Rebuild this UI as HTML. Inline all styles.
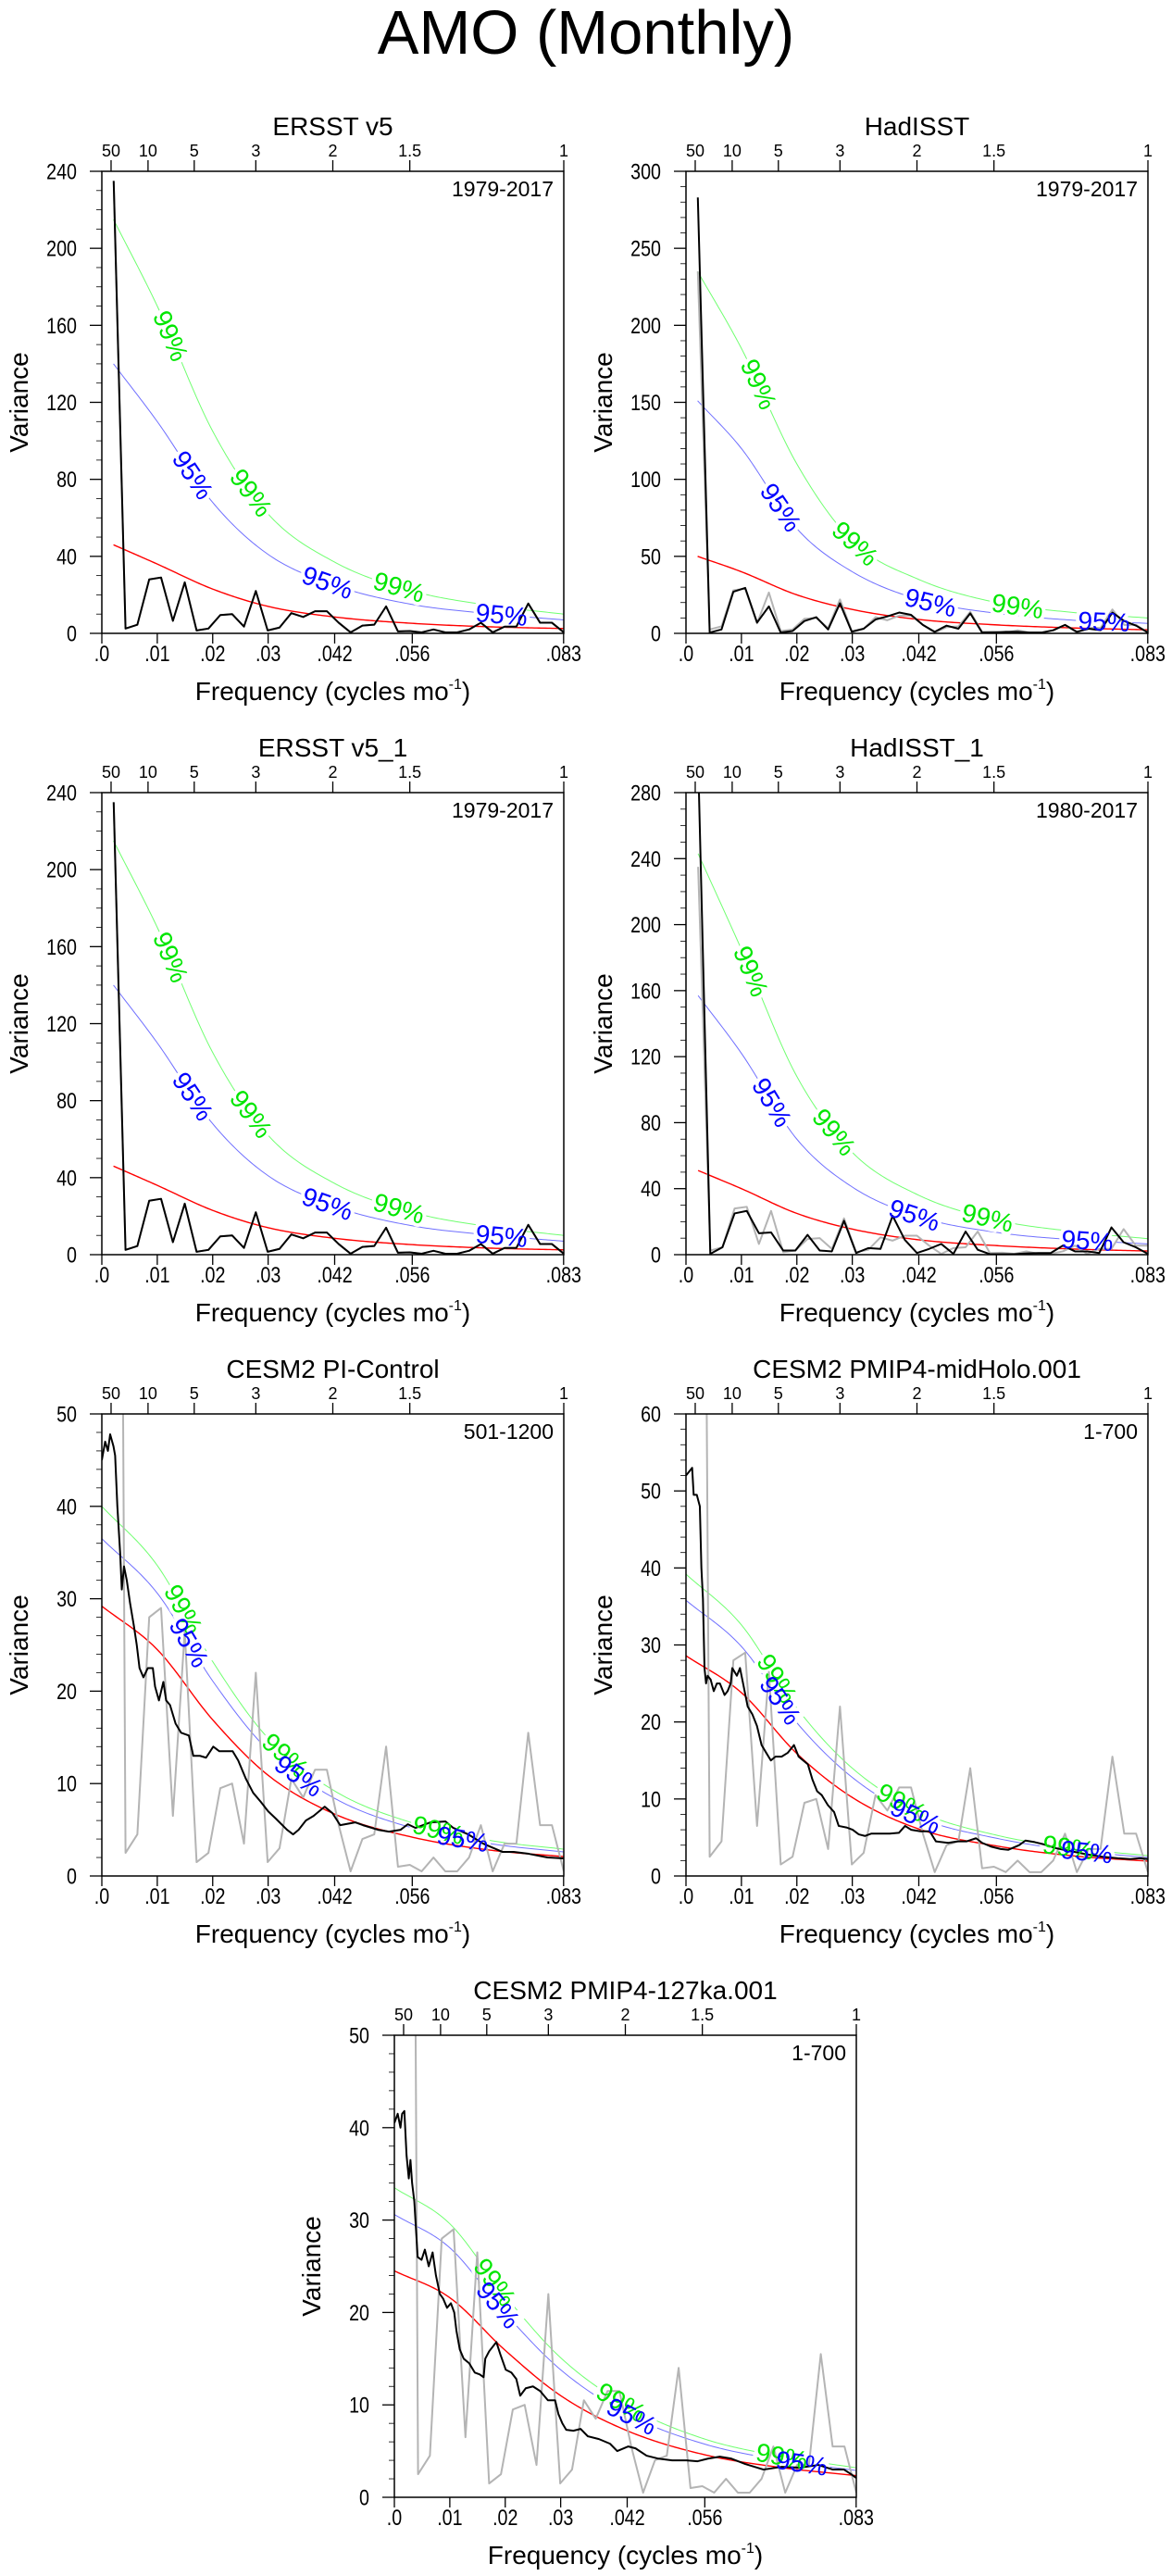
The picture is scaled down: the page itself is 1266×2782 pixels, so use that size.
<!DOCTYPE html>
<html><head><meta charset="utf-8"><title>AMO (Monthly)</title>
<style>
html,body{margin:0;padding:0;background:#fff;}
svg{display:block;font-family:"Liberation Sans",Arial,sans-serif;}
</style></head>
<body>
<svg id="fig" width="1266" height="2782" viewBox="0 0 1266 2782" xmlns="http://www.w3.org/2000/svg">
<rect x="0" y="0" width="1266" height="2782" fill="#fff"/>
<text x="633" y="58" font-size="67" text-anchor="middle" fill="#000">AMO (Monthly)</text>
</svg>
<script>
// ---------- data ----------
const ersstVals = [235,2.5,4.5,28,29,6.5,26.5,1.5,2.5,9.5,10,3.5,22,1.5,3,10.5,8.5,11.5,11.5,5.5,0.5,4,4.5,14,1,1.2,0.5,2,0.5,0.5,2,5.5,0.5,3.5,3.5,15.5,5.5,5.5,0.5];
const hadVals = [283,0.5,2.5,27,29.5,7,17.5,0.5,1.5,8,10.5,2.5,19.5,1,3,9,11,13.5,12,5.5,1,5,3,13,0.5,0.5,1,1,0.5,0.5,2,5.5,1,3,2,13.5,8,5,0.5];
const had1Vals = [300,0.5,4.5,25,26.5,13,13.5,2.5,2.5,12,2.5,2,20.5,1,4,3.5,23.5,9,1,3.5,6.5,0.5,14,3,0.3,0.3,0.3,0.8,1,1,5.5,2,2,1,16.5,7.5,4.5,0.5];

const knotsObs = [0.0021,0.01,0.02,0.03,0.042,0.056,0.07,0.0833];
const knotsMod = [0,0.01,0.02,0.03,0.042,0.056,0.07,0.0833];

const ersstRed = [46,36,23,14,8.5,5.2,3.4,2.5];
const ersstB95 = [140,110,68,41,25,15,10.2,7];
const ersstG99 = [215,170,105,62,37,22,14.5,10];
const hadRed = [50,40,25,15.5,9,5.5,3.5,2.3];
const hadB95 = [151,120,68,40,22,13,8.5,6.5];
const hadG99 = [235,185,110,60,35,20,13.5,10];
const had1Red = [51,40,25,15.5,9,5.5,3.4,2.2];
const had1B95 = [157,122,70,41,23,13.5,9,6.5];
const had1G99 = [243,185,108,62,36,21,14,9.7];

const piFreq = [0,0.0006,0.0011,0.0015,0.0021,0.0024,0.0028,0.0033,0.0036,0.0040,0.0045,0.0051,0.0058,0.0063,0.0068,0.0075,0.0083,0.0092,0.0096,0.0103,0.0111,0.0116,0.0123,0.0133,0.0143,0.0157,0.0165,0.0177,0.0188,0.0201,0.0212,0.0226,0.0236,0.0246,0.0260,0.0273,0.0287,0.0300,0.0314,0.0334,0.0345,0.0355,0.0368,0.0382,0.0402,0.0416,0.0430,0.0457,0.0471,0.0498,0.0518,0.0539,0.0552,0.0566,0.0593,0.0620,0.0634,0.0661,0.0688,0.0723,0.0743,0.0770,0.0804,0.0833];
const piVals = [45,47,46,47.8,46.5,45.5,40,35,31,33.5,32,29.5,27,25,22.5,21.5,22.5,22.5,20.5,19,21,19,18.5,16.5,15.5,15.2,13,13,12.8,14,13.5,13.5,13.5,12.5,10.5,9,8,7,6.2,5,4.5,5,6,6.5,7.5,6.8,5.5,5.8,5.5,5,4.8,5,5.6,5.2,5.8,5.9,5.2,4.5,3.5,2.6,2.6,2.4,2.0,1.9];
const piRed = [29.2,24.5,16.9,10.9,6.7,4.2,2.8,2.1];
const piB95 = [36.5,30.6,21.1,13.6,8.4,5.2,3.5,2.6];
const piG99 = [40,33.6,23.2,14.9,9.2,5.75,3.85,2.9];

const mhFreq = [0,0.00056,0.00111,0.00139,0.00195,0.0025,0.00278,0.00306,0.00334,0.00362,0.0039,0.00445,0.00501,0.00557,0.00612,0.00696,0.00751,0.00807,0.00835,0.00918,0.00974,0.0103,0.01113,0.01197,0.0128,0.01364,0.01447,0.01531,0.01614,0.01725,0.01837,0.01948,0.02032,0.02115,0.02199,0.02282,0.02366,0.02449,0.0256,0.02672,0.02755,0.02894,0.03006,0.03117,0.03228,0.0334,0.03507,0.03674,0.03841,0.03952,0.04063,0.0423,0.04397,0.04508,0.04731,0.04898,0.05065,0.05232,0.05343,0.0551,0.05677,0.05816,0.06011,0.06123,0.0629,0.06457,0.06679,0.06958,0.07236,0.07514,0.07792,0.08015,0.08182,0.0833];
const mhVals = [52,52.5,53,49.5,49.5,48,40,36,27,25,26,25.5,24,25,25,23.5,24,25,27,26,27,25,22,21,19.5,17,16,15,15.5,15.5,16,17,15.5,15,14.5,12.5,11,10.5,9.2,8.3,6.5,6.3,6,5.4,5.2,5.5,5.5,5.5,5.6,6.5,6,5.8,5.8,4.5,4.3,4.5,4.5,4.9,4.3,3.8,3.5,3.4,4,4.6,4.4,4.1,3.6,3.2,2.8,2.5,2.3,2.2,2.3,2.2];
const mhRed = [28.6,23.8,15.9,10.2,6.1,3.9,2.6,1.93];
const mhB95 = [35.8,29.8,19.9,12.8,7.6,4.9,3.3,2.4];
const mhG99 = [39.2,32.6,21.8,14,8.4,5.3,3.6,2.65];

const kaFreq = [0,0.0006,0.0011,0.0014,0.0018,0.0022,0.0026,0.0029,0.0032,0.0036,0.0039,0.0042,0.0049,0.0055,0.0062,0.0069,0.0075,0.0082,0.0088,0.0095,0.0102,0.0108,0.0112,0.0118,0.0125,0.0135,0.0145,0.0154,0.0161,0.0164,0.0171,0.0184,0.0191,0.0201,0.0211,0.0220,0.0227,0.0237,0.0250,0.0263,0.0277,0.0290,0.0296,0.0303,0.0310,0.0323,0.0336,0.0349,0.0369,0.0389,0.0402,0.0422,0.0435,0.0455,0.0475,0.0501,0.0527,0.0547,0.0567,0.0587,0.0607,0.0633,0.0666,0.0699,0.0732,0.0765,0.0791,0.0811,0.0824,0.0833];
const kaVals = [40.5,41.5,40,41.5,41.8,37,34.5,36.5,34,32,29,26,25.7,26.8,25,26.5,24,22,21.5,20.5,21,20,18,16,15,14.5,13.5,13.3,13,15,15.8,16.8,15.5,13.8,13.5,12.8,11,11.8,12,11.5,10.5,10.5,9,8,7.3,7.2,7.4,6.6,6.3,5.8,5,5.5,5.3,4.5,4.2,4,4,3.9,4.2,4.4,4.2,3.6,3,3.3,3.2,3.5,3,3,2.5,2.1];
const kaRed = [24.5,21.6,15.9,11,7.2,4.6,3.2,2.35];
const kaB95 = [30.6,27,19.9,13.8,9,5.75,4,2.9];
const kaG99 = [33.5,29.6,21.8,15.1,9.9,6.3,4.4,3.2];

const periodTicks = [50,10,5,3,2,1.5,1];
const periodLabels = ["50","10","5","3","2","1.5","1"];
const freqTicks = [0,0.01,0.02,0.03,0.042,0.056,0.0833];
const freqLabels = [".0",".01",".02",".03",".042",".056",".083"];

const l99 = {
  ersst:[0.0124,0.0269,0.0536], ersst95:[0.0164,0.0407,0.0721],
  had:[0.0131,0.0305,0.0598], had95:[0.0171,0.0441,0.0754],
  had1:[0.0117,0.0267,0.0544], had195:[0.0155,0.0412,0.0724],
  pi:[0.0147,0.0331,0.0607], pi95:[0.0157,0.0355,0.0651],
  mh:[0.0164,0.0389,0.069], mh95:[0.0170,0.0414,0.0723],
  ka:[0.0181,0.0409,0.0699], ka95:[0.0187,0.0428,0.0735]
};

function obsFreq(vals, n){ return vals.map((v,i)=>(i+1)/n); }

const panels = [
 {key:'p1',x:110,y:185,title:'ERSST v5',per:'1979-2017',ymax:240,step:40,minor:10,
  bf:obsFreq(ersstVals,468),bv:ersstVals,gf:obsFreq(ersstVals,468),gv:ersstVals,kn:knotsObs,red:ersstRed,b95:ersstB95,g99:ersstG99,L99:l99.ersst,L95:l99.ersst95},
 {key:'p2',x:741,y:185,title:'HadISST',per:'1979-2017',ymax:300,step:50,minor:10,
  bf:obsFreq(hadVals,468),bv:hadVals,gf:obsFreq(ersstVals,468),gv:ersstVals,kn:knotsObs,red:hadRed,b95:hadB95,g99:hadG99,L99:l99.had,L95:l99.had95},
 {key:'p3',x:110,y:856,title:'ERSST v5_1',per:'1979-2017',ymax:240,step:40,minor:10,
  bf:obsFreq(ersstVals,468),bv:ersstVals,gf:obsFreq(ersstVals,468),gv:ersstVals,kn:knotsObs,red:ersstRed,b95:ersstB95,g99:ersstG99,L99:l99.ersst,L95:l99.ersst95},
 {key:'p4',x:741,y:856,title:'HadISST_1',per:'1980-2017',ymax:280,step:40,minor:10,
  bf:obsFreq(had1Vals,456),bv:had1Vals,gf:obsFreq(ersstVals.slice(0,38),456),gv:ersstVals.slice(0,38),kn:[0.00219,0.01,0.02,0.03,0.042,0.056,0.07,0.0833],red:had1Red,b95:had1B95,g99:had1G99,L99:l99.had1,L95:l99.had195},
 {key:'p5',x:110,y:1527,title:'CESM2 PI-Control',per:'501-1200',ymax:50,step:10,minor:2,
  bf:piFreq,bv:piVals,gf:obsFreq(ersstVals,468),gv:ersstVals,kn:knotsMod,red:piRed,b95:piB95,g99:piG99,L99:l99.pi,L95:l99.pi95},
 {key:'p6',x:741,y:1527,title:'CESM2 PMIP4-midHolo.001',per:'1-700',ymax:60,step:10,minor:2,
  bf:mhFreq,bv:mhVals,gf:obsFreq(ersstVals,468),gv:ersstVals,kn:knotsMod,red:mhRed,b95:mhB95,g99:mhG99,L99:l99.mh,L95:l99.mh95},
 {key:'p7',x:426,y:2198,title:'CESM2 PMIP4-127ka.001',per:'1-700',ymax:50,step:10,minor:2,
  bf:kaFreq,bv:kaVals,gf:obsFreq(ersstVals,468),gv:ersstVals,kn:knotsMod,red:kaRed,b95:kaB95,g99:kaG99,L99:l99.ka,L95:l99.ka95}
];

// ---------- drawing ----------
const NS='http://www.w3.org/2000/svg';
const svg=document.getElementById('fig');
const W=499,H=499,FMAX=1/12;
function el(tag,attrs,parent){const e=document.createElementNS(NS,tag);for(const k in attrs)e.setAttribute(k,attrs[k]);(parent||svg).appendChild(e);return e;}

function mono(xs,ys){
  const n=xs.length,d=[],m=[];
  for(let i=0;i<n-1;i++)d.push((ys[i+1]-ys[i])/(xs[i+1]-xs[i]));
  m[0]=d[0];m[n-1]=d[n-2];
  for(let i=1;i<n-1;i++){m[i]=(d[i-1]*d[i]<=0)?0:(d[i-1]+d[i])/2;}
  for(let i=0;i<n-1;i++){if(d[i]===0){m[i]=0;m[i+1]=0;continue;}const a=m[i]/d[i],b=m[i+1]/d[i],s=a*a+b*b;if(s>9){const t=3/Math.sqrt(s);m[i]=t*a*d[i];m[i+1]=t*b*d[i];}}
  return function(x){let i=0;while(i<n-2&&x>xs[i+1])i++;const h=xs[i+1]-xs[i],t=(x-xs[i])/h,t2=t*t,t3=t2*t;
    return (2*t3-3*t2+1)*ys[i]+(t3-2*t2+t)*h*m[i]+(-2*t3+3*t2)*ys[i+1]+(t3-t2)*h*m[i+1];};
}

panels.forEach(p=>{
  const sx=f=>p.x+f/FMAX*W, sy=v=>p.y+H-v/p.ymax*H;
  const g=el('g',{});
  
  
  const cp=el('clipPath',{id:'clip-'+p.key},g);
  el('rect',{x:p.x,y:p.y,width:W,height:H},cp);
  const plot=el('g',{'clip-path':'url(#clip-'+p.key+')'},g);

  const curve=(arr,color,wd,name)=>{
    const fn=mono(p.kn,arr);const pts=[];
    for(let i=0;i<=200;i++){const f=p.kn[0]+(p.kn[p.kn.length-1]-p.kn[0])*i/200;pts.push(sx(f).toFixed(2)+','+sy(fn(f)).toFixed(2));}
    const pl=el('polyline',{points:pts.join(' '),fill:'none',stroke:color,'stroke-width':wd},plot);
    
    
    return fn;
  };
  const f95=curve(p.b95,'#7070ff',1,'conf-95-curve');
  const f99=curve(p.g99,'#70ff70',1,'conf-99-curve');
  const labels=[];
  const mk=(fn,fs,txt,col)=>fs.forEach(f=>{
    const x=sx(f),y=sy(fn(f)),x2=sx(f+0.0008),y2=sy(fn(f+0.0008)),x1=sx(f-0.0008),y1=sy(fn(f-0.0008));
    const ang=Math.atan2(y2-y1,x2-x1)*180/Math.PI;
    labels.push({x,y,ang,txt,col});
  });
  mk(f99,p.L99,'99%','#00e600');mk(f95,p.L95,'95%','#0000ff');
  labels.forEach(l=>{el('text',{x:l.x,y:l.y,'font-size':28,'text-anchor':'middle','dominant-baseline':'central',fill:'#fff',stroke:'#fff','stroke-width':8,transform:`rotate(${l.ang.toFixed(1)} ${l.x.toFixed(1)} ${l.y.toFixed(1)})`},plot).textContent=l.txt;});
  curve(p.red,'#ff0000',1.4,'red-noise-curve');

  const line=(fs,vs,color,wd,name)=>{
    const pts=fs.map((f,i)=>sx(f).toFixed(2)+','+sy(vs[i]).toFixed(2));
    const pl=el('polyline',{points:pts.join(' '),fill:'none',stroke:color,'stroke-width':wd,'stroke-linejoin':'round'},plot);
    
    
  };
  line(p.gf,p.gv,'#b4b4b4',2,'obs-spectrum-gray');
  line(p.bf,p.bv,'#000',2,'spectrum-black');
  labels.forEach(l=>{const t=el('text',{x:l.x,y:l.y,'font-size':28,'text-anchor':'middle','dominant-baseline':'central',fill:l.col,transform:`rotate(${l.ang.toFixed(1)} ${l.x.toFixed(1)} ${l.y.toFixed(1)})`},plot);t.textContent=l.txt;
    
    });

  const fr=el('rect',{x:p.x,y:p.y,width:W,height:H,fill:'none',stroke:'#000','stroke-width':1.5},g);
  
  

  for(let v=0;v<=p.ymax+1e-9;v+=p.minor){
    const maj=Math.abs(v/p.step-Math.round(v/p.step))<1e-6;
    el('line',{x1:p.x-(maj?13:6),x2:p.x,y1:sy(v),y2:sy(v),stroke:'#000','stroke-width':maj?1.3:0.8},g);
    if(maj){const t=el('text',{x:0,y:0,'font-size':24,'text-anchor':'end',transform:`translate(${p.x-27},${sy(v)+8.5}) scale(0.82,1)`},g);t.textContent=String(v);
      
      }
  }
  freqTicks.forEach((f,i)=>{
    el('line',{x1:sx(f),x2:sx(f),y1:p.y+H,y2:p.y+H+11,stroke:'#000','stroke-width':1.3},g);
    const t=el('text',{x:0,y:0,'font-size':24,'text-anchor':'middle',transform:`translate(${sx(f)},${p.y+H+30}) scale(0.82,1)`},g);t.textContent=freqLabels[i];
    
    
  });
  periodTicks.forEach((P,i)=>{
    const f=1/(12*P);
    el('line',{x1:sx(f),x2:sx(f),y1:p.y-12,y2:p.y,stroke:'#000','stroke-width':1.3},g);
    const t=el('text',{x:sx(f),y:p.y-16,'font-size':18,'text-anchor':'middle'},g);t.textContent=periodLabels[i];
    
    
  });
  const tt=el('text',{x:p.x+W/2,y:p.y-39,'font-size':28,'text-anchor':'middle'},g);tt.textContent=p.title;
  
  
  const pt=el('text',{x:p.x+W-11,y:p.y+27,'font-size':23,'text-anchor':'end'},g);pt.textContent=p.per;
  
  
  const xl=el('text',{x:p.x+W/2,y:p.y+H+72,'font-size':28,'text-anchor':'middle'},g);
  
  
  xl.appendChild(document.createTextNode('Frequency (cycles mo'));
  const sup=el('tspan',{'font-size':16,dy:-12},xl);sup.textContent='-1';
  const cl=el('tspan',{'font-size':28,dy:12},xl);cl.textContent=')';
  const yl=el('text',{x:0,y:0,'font-size':28,'text-anchor':'middle',transform:`translate(${p.x-80},${p.y+H/2}) rotate(-90)`},g);yl.textContent='Variance';
  
  
});
</script>
</body></html>
